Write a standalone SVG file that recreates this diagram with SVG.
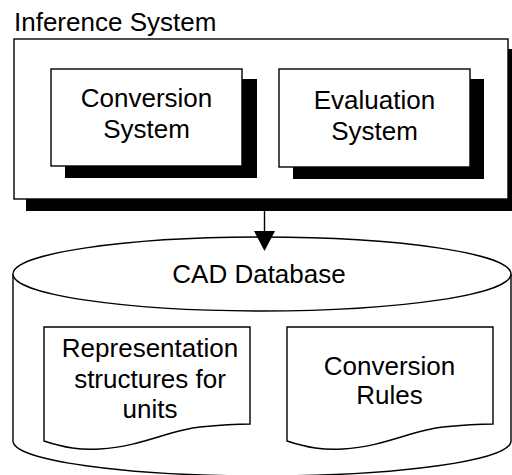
<svg xmlns="http://www.w3.org/2000/svg" width="512" height="475" viewBox="0 0 512 475">
  <style>
    .box { fill: #fff; stroke: #000; stroke-width: 1.4; }
    .shadow { fill: #000; }
    .label { font-family: "Liberation Sans", Arial, sans-serif; font-size: 26px; fill: #000; text-anchor: middle; }
    .title { font-family: "Liberation Sans", Arial, sans-serif; font-size: 26px; fill: #000; }
    .edge { stroke: #000; stroke-width: 1.4; fill: none; }
  </style>
  <rect width="512" height="475" fill="#fff"/>

  <!-- Inference System container -->
  <g id="inference-system">
    <text class="title" x="14" y="31">Inference System</text>
    <rect class="shadow" x="26" y="49" width="490" height="162"/>
    <rect class="box" x="14" y="39" width="494" height="160"/>
  </g>

  <g id="conversion-system">
    <rect class="shadow" x="65" y="79" width="192" height="99"/>
    <rect class="box" x="51" y="69" width="191" height="97"/>
    <text class="label" x="146.5" y="107">Conversion</text>
    <text class="label" x="146.5" y="138">System</text>
  </g>

  <g id="evaluation-system">
    <rect class="shadow" x="293" y="79" width="191" height="100"/>
    <rect class="box" x="279" y="69" width="191" height="98"/>
    <text class="label" x="374.5" y="109">Evaluation</text>
    <text class="label" x="374.5" y="140">System</text>
  </g>

  <!-- CAD Database cylinder -->
  <g id="cad-database">
    <path class="box" d="M13,274 V441 A249,35 0 0 0 511,441 V274"/>
    <ellipse class="box" cx="262" cy="274" rx="249" ry="37"/>
    <text class="label" x="259" y="283">CAD Database</text>
  </g>

  <g id="representation-structures">
    <path class="box" d="M44,327 H250 V424 C240,424 220,425 200,427 C170,430 140,447 100,449 C80,450 65,448 44,441 Z"/>
    <text class="label" x="150" y="357">Representation</text>
    <text class="label" x="150" y="388">structures for</text>
    <text class="label" x="150" y="418">units</text>
  </g>

  <g id="conversion-rules">
    <path class="box" d="M287,327 H493 V424 C483,424 463,425 443,427 C413,430 383,447 343,449 C323,450 308,448 287,441 Z"/>
    <text class="label" x="389.5" y="375">Conversion</text>
    <text class="label" x="389.5" y="404">Rules</text>
  </g>

  <!-- connectors -->
  <g id="connectors">
    <line class="edge" x1="264.5" y1="199" x2="264.5" y2="232"/>
    <polygon points="254,231 275,231 264.5,251" fill="#000"/>
  </g>
</svg>
